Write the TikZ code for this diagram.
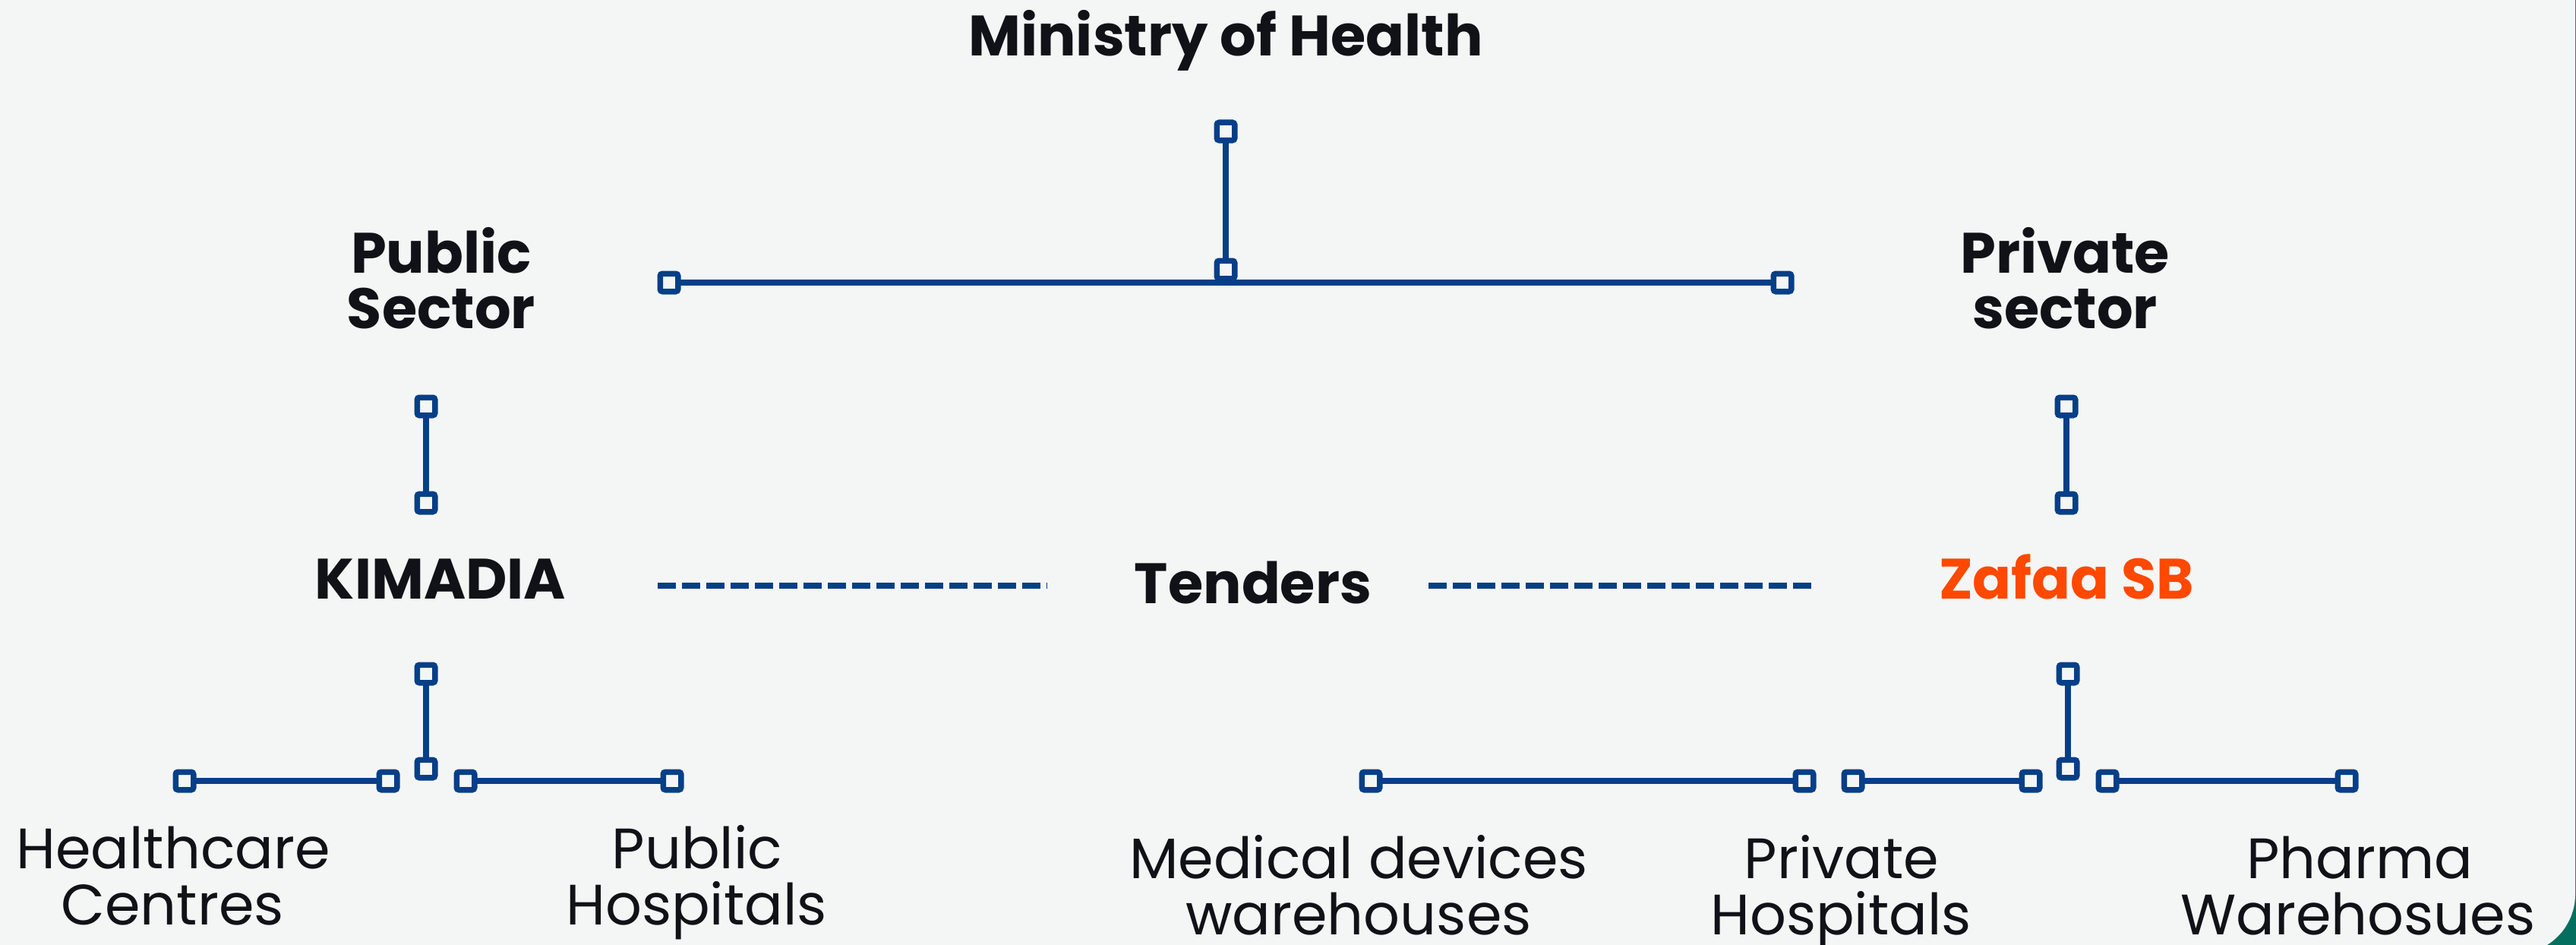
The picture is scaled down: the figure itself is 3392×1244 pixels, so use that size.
\documentclass[tikz,border=0pt]{standalone}
\usepackage{fontspec}
\setmainfont{Poppins}
\definecolor{navy}{HTML}{063F88}
\definecolor{ink}{HTML}{101217}
\definecolor{zorange}{HTML}{FF4800}
\definecolor{panel}{HTML}{F4F6F5}
\definecolor{teal}{HTML}{03705F}
\begin{document}
\begin{tikzpicture}[x=1pt,y=-1pt,
  sq/.style={draw=navy, fill=panel, line width=7.5pt, minimum size=23.5pt,
    inner sep=0pt, outer sep=0pt, rounded corners=3pt},
  conn/.style={draw=navy, line width=7.5pt},
  dashconn/.style={draw=navy, line width=8pt, dash pattern=on 24pt off 8pt},
  head/.style={text=ink, font=\fontsize{75}{74}\selectfont\bfseries, inner sep=0pt, anchor=base},
  lab/.style={text=ink, font=\fontsize{75}{74}\selectfont, inner sep=0pt, anchor=base}]
\useasboundingbox (0,0) rectangle (3392,1244);
\fill[teal] (0,0) rectangle (3392,1244);
\fill[panel, rounded corners=79pt] (-100,-100) rectangle (3391,1256);

% texts
\node[head] (moh) at (1614,74) {Ministry of Health};
\node[head] (pub1) at (581,359) {Public};
\node[head] (pub2) at (581,432) {Sector};
\node[head] (pri1) at (2719,359) {Private};
\node[head] (pri2) at (2719,432) {sector};
\node[head] (kim) at (580,788) {KIMADIA};
\node[head] (ten) at (1650,794) {Tenders};
\node[head, text=zorange] (zaf) at (2721,788) {Zafaa SB};
\node[lab] (hc1) at (228,1143) {Healthcare};
\node[lab] (hc2) at (227,1217) {Centres};
\node[lab] (ph1) at (918,1143) {Public};
\node[lab] (ph2) at (917,1217) {Hospitals};
\node[lab] (md1) at (1789,1156) {Medical devices};
\node[lab] (md2) at (1789,1230) {warehouses};
\node[lab] (pv1) at (2425,1156) {Private};
\node[lab] (pv2) at (2424,1230) {Hospitals};
\node[lab] (pw1) at (3107,1156) {Pharma};
\node[lab] (pw2) at (3105,1230) {Warehosues};

% connectors first (squares drawn on top)
\coordinate (t1c) at (1614,173);
\coordinate (t2c) at (1614,355);
\coordinate (hlc) at (881,372);
\coordinate (hrc) at (2347,372);
\draw[conn] (t1c) -- (t2c);
\draw[conn] (hlc) -- (hrc);

\coordinate (lu1c) at (561,535);
\coordinate (lu2c) at (561,662);
\coordinate (ru1c) at (2721,535);
\coordinate (ru2c) at (2721,662);
\draw[conn] (lu1c) -- (lu2c);
\draw[conn] (ru1c) -- (ru2c);

\coordinate (ll1c) at (561,887);
\coordinate (ll2c) at (561,1012);
\coordinate (hcac) at (243,1028);
\coordinate (hcbc) at (511,1028);
\coordinate (phac) at (613,1028);
\coordinate (phbc) at (885,1028);
\draw[conn] (ll1c) -- (ll2c);
\draw[conn] (hcac) -- (hcbc);
\draw[conn] (phac) -- (phbc);

\coordinate (rl1c) at (2723,887);
\coordinate (rl2c) at (2723,1012);
\coordinate (mdac) at (1805,1028);
\coordinate (mdbc) at (2376,1028);
\coordinate (pvac) at (2440,1028);
\coordinate (pvbc) at (2674,1028);
\coordinate (pwac) at (2775,1028);
\coordinate (pwbc) at (3090,1028);
\draw[conn] (rl1c) -- (rl2c);
\draw[conn] (mdac) -- (mdbc);
\draw[conn] (pvac) -- (pvbc);
\draw[conn] (pwac) -- (pwbc);

% squares
\foreach \n in {t1c,t2c,hlc,hrc,lu1c,lu2c,ru1c,ru2c,ll1c,ll2c,hcac,hcbc,phac,phbc,rl1c,rl2c,mdac,mdbc,pvac,pvbc,pwac,pwbc}
  \node[sq] (sq-\n) at (\n) {};

% dashed links
\coordinate (dl1) at (866,771);
\coordinate (dl2) at (1379,771);
\coordinate (dr1) at (1881,771);
\coordinate (dr2) at (2385,771);
\draw[dashconn] (dl1) -- (dl2);
\draw[dashconn] (dr1) -- (dr2);
\end{tikzpicture}
\end{document}
